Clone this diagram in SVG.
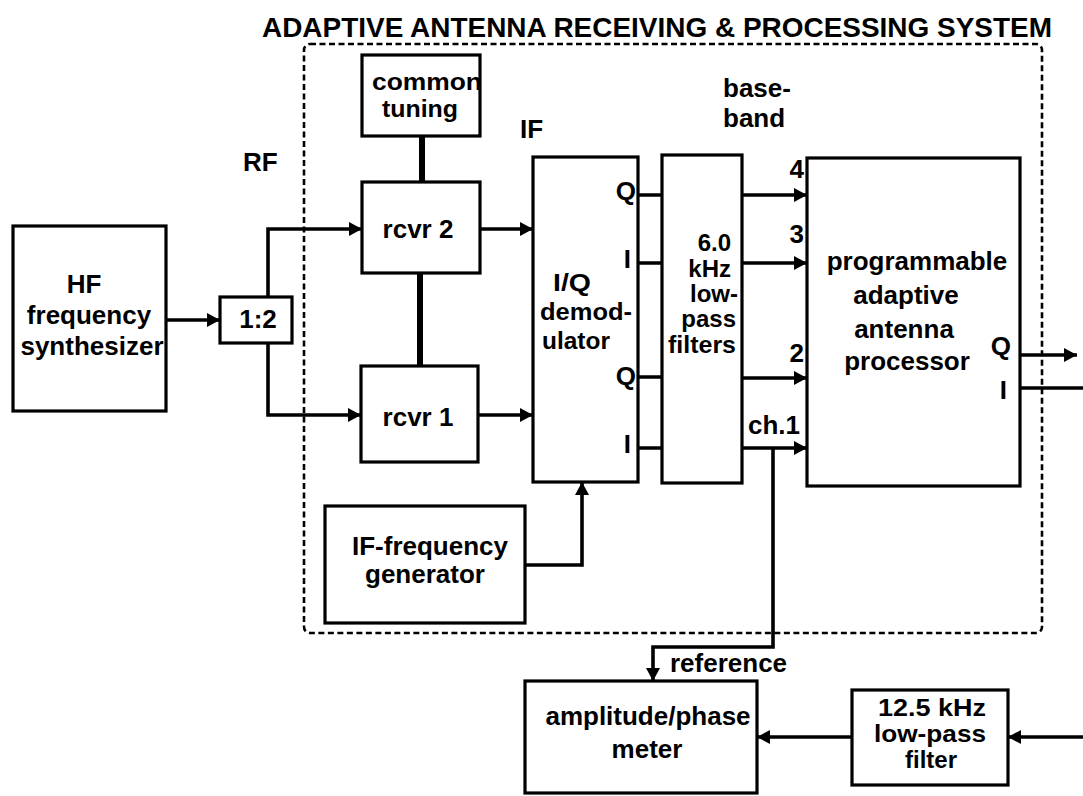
<svg xmlns="http://www.w3.org/2000/svg" width="1083" height="796" viewBox="0 0 1083 796">
<style>
.box{fill:none;stroke:#000;stroke-width:3.2}
.ln{fill:none;stroke:#000;stroke-width:3.6}
.bar{fill:none;stroke:#000;stroke-width:6}
.dash{fill:none;stroke:#000;stroke-width:2.6;stroke-dasharray:6 3.5}
text{font-family:"Liberation Sans",Arial,sans-serif;font-weight:bold;font-size:26px;fill:#000}
.c{text-anchor:middle}
.e{text-anchor:end}
.s{font-size:24px}
.title{font-size:28px}
</style>
<defs>
<marker id="ah" viewBox="0 0 13 14" refX="13" refY="7" markerWidth="13" markerHeight="14" markerUnits="userSpaceOnUse" orient="auto">
<path d="M0,0 L13,7 L0,14 z" fill="#000"/>
</marker>
</defs>
<rect width="1083" height="796" fill="#fff"/>
<g id="system">
<rect class="dash" x="304" y="44" width="738" height="589" rx="6"/>
<text class="title" x="262" y="37" textLength="790" lengthAdjust="spacingAndGlyphs">ADAPTIVE ANTENNA RECEIVING &amp; PROCESSING SYSTEM</text>
</g>
<g id="connectors">
<path class="ln" d="M166,320 H220" marker-end="url(#ah)"/>
<path class="ln" d="M268,297 V229 H362" marker-end="url(#ah)"/>
<path class="ln" d="M268,343 V415 H361" marker-end="url(#ah)"/>
<path class="ln" d="M480,229 H533" marker-end="url(#ah)"/>
<path class="ln" d="M478,415 H533" marker-end="url(#ah)"/>
<path class="bar" d="M422,136 V182"/>
<path class="bar" d="M420,273 V366"/>
<path class="ln" d="M525,565 H582 V482" marker-end="url(#ah)"/>
<path class="ln" d="M638,195 H662 M638,263 H662 M638,377 H662 M638,448 H662"/>
<path class="ln" d="M742,195 H807" marker-end="url(#ah)"/>
<path class="ln" d="M742,263 H807" marker-end="url(#ah)"/>
<path class="ln" d="M742,378 H807" marker-end="url(#ah)"/>
<path class="ln" d="M742,448 H807" marker-end="url(#ah)"/>
<path class="ln" d="M773,448 V647 H653 V681" marker-end="url(#ah)"/>
<path class="ln" d="M1020,355 H1077" marker-end="url(#ah)"/>
<path class="ln" d="M1020,388 H1083"/>
<path class="ln" d="M1083,737 H1008" marker-end="url(#ah)"/>
<path class="ln" d="M852,737 H757" marker-end="url(#ah)"/>
</g>
<g id="labels">
<text x="243" y="171">RF</text>
<text x="520" y="138">IF</text>
<text x="723" y="97">base-</text>
<text x="723" y="127">band</text>
<text class="e" x="804" y="178">4</text>
<text class="e" x="804" y="243">3</text>
<text class="e" x="804" y="362">2</text>
<text x="748" y="434">ch.1</text>
<text x="670" y="672">reference</text>
</g>
<g id="synth">
<rect class="box" x="13" y="226" width="153" height="185"/>
<text class="c" x="84" y="293">HF</text>
<text class="c" x="89" y="324">frequency</text>
<text class="c" x="92" y="355">synthesizer</text>
</g>
<g id="splitter">
<rect class="box" x="220" y="297" width="72" height="46"/>
<text class="c" x="258" y="328">1:2</text>
</g>
<g id="tuning">
<rect class="box" x="362" y="55" width="118" height="81"/>
<text class="c s" x="427" y="90" textLength="110" lengthAdjust="spacingAndGlyphs">common</text>
<text class="c s" x="420" y="117" textLength="76" lengthAdjust="spacingAndGlyphs">tuning</text>
</g>
<g id="rcvr2">
<rect class="box" x="362" y="182" width="118" height="91"/>
<text class="c" x="418" y="238">rcvr 2</text>
</g>
<g id="rcvr1">
<rect class="box" x="361" y="366" width="117" height="96"/>
<text class="c" x="418" y="426">rcvr 1</text>
</g>
<g id="ifgen">
<rect class="box" x="325" y="506" width="200" height="117"/>
<text class="c" x="430" y="555">IF-frequency</text>
<text class="c" x="425" y="583">generator</text>
</g>
<g id="demod">
<rect class="box" x="533" y="157" width="105" height="325"/>
<text class="s" x="553" y="291" textLength="38" lengthAdjust="spacingAndGlyphs">I/Q</text>
<text class="s" x="540" y="320" textLength="92" lengthAdjust="spacingAndGlyphs">demod-</text>
<text class="s" x="542" y="349" textLength="68" lengthAdjust="spacingAndGlyphs">ulator</text>
<text class="e" x="636" y="200">Q</text>
<text class="e" x="631" y="268">I</text>
<text class="e" x="636" y="385">Q</text>
<text class="e" x="631" y="453">I</text>
</g>
<g id="filters">
<rect class="box" x="662" y="155" width="80" height="328"/>
<text class="e s" x="731" y="251">6.0</text>
<text class="e s" x="731" y="277">kHz</text>
<text class="e s" x="738" y="302">low-</text>
<text class="e s" x="736" y="327">pass</text>
<text class="e s" x="736" y="353" textLength="68" lengthAdjust="spacingAndGlyphs">filters</text>
</g>
<g id="processor">
<rect class="box" x="807" y="158" width="213" height="328"/>
<text class="c" x="917" y="270">programmable</text>
<text class="c" x="906" y="304">adaptive</text>
<text class="c" x="904" y="338">antenna</text>
<text class="c" x="907" y="370">processor</text>
<text class="e" x="1011" y="355">Q</text>
<text class="e" x="1007" y="399">I</text>
</g>
<g id="meter">
<rect class="box" x="525" y="681" width="232" height="112"/>
<text class="c" x="648" y="725">amplitude/phase</text>
<text class="c" x="647" y="758">meter</text>
</g>
<g id="lpf">
<rect class="box" x="852" y="690" width="156" height="95"/>
<text class="c s" x="932" y="716" textLength="108" lengthAdjust="spacingAndGlyphs">12.5 kHz</text>
<text class="c s" x="930" y="742" textLength="112" lengthAdjust="spacingAndGlyphs">low-pass</text>
<text class="c s" x="931" y="768">filter</text>
</g>
</svg>
